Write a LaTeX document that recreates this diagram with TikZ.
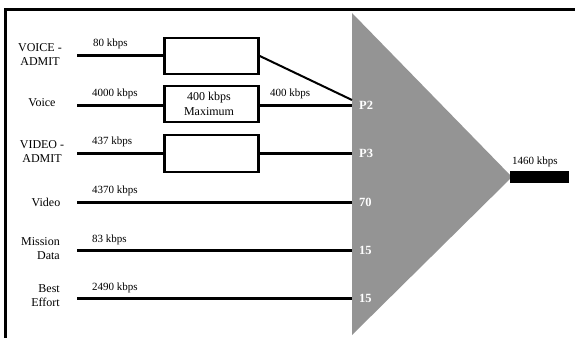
\documentclass[tikz,border=0pt]{standalone}
\usepackage{fontspec}
\setmainfont{Liberation Serif}
\definecolor{trigrey}{HTML}{949494}
\begin{document}
\begin{tikzpicture}[x=1pt,y=-1pt,
  font=\fontsize{11}{13}\selectfont,
  feed/.style={line width=3pt},
  shaper/.style={draw,line width=2.6pt,minimum width=94pt,minimum height=36pt,inner sep=0pt,fill=white},
  rate/.style={anchor=west,inner sep=0pt},
  src/.style={inner sep=0pt,align=center,font=\fontsize{12}{13}\selectfont},
  prio/.style={anchor=west,inner sep=0pt,text=white,font=\fontsize{12.5}{14}\selectfont\bfseries}]
\useasboundingbox (0,0) rectangle (575,337);
% frame
\draw[line width=3pt] (5,340) -- (5,10) -- (580,10);
% triangle
\fill[trigrey] (352,13) -- (512,177) -- (352,335) -- cycle;
\coordinate (apex) at (510,177);
\coordinate (outend) at (569,177);
\draw[line width=12pt] (apex) -- (outend);
\node[anchor=west,inner sep=0pt] (outlbl) at (512,162) {1460 kbps};
% triangle input points
\coordinate (p2d) at (352,100);
\coordinate (p2) at (352,105);
\coordinate (p3) at (352,153);
\coordinate (p70) at (352,202);
\coordinate (p15a) at (352,250);
\coordinate (p15b) at (352,298);
\node[prio] (lp2) at (359,105) {P2};
\node[prio] (lp3) at (359,153) {P3};
\node[prio] (l70) at (359,202) {70};
\node[prio] (l15a) at (359,250) {15};
\node[prio] (l15b) at (359,298) {15};
% shaper boxes
\node[shaper] (b1) at (211.5,56) {};
\node[shaper] (b2) at (211.5,104) {};
\node[shaper,minimum height=37pt] (b3) at (211.5,153.5) {};
\node[src] (b2t) at (209,104) {400 kbps\\[2pt]Maximum};
% start coordinates
\coordinate (s1) at (77,56);
\coordinate (s2) at (77,105);
\coordinate (s3) at (77,153);
\coordinate (s4) at (77,202);
\coordinate (s5) at (77,250);
\coordinate (s6) at (77,298);
% feeds
\draw[feed] (s1) -- (s1 -| b1.west);
\draw[feed] (s2) -- (s2 -| b2.west);
\draw[feed] (s3) -- (s3 -| b3.west);
\draw[line width=2pt] (b1.east |- 0,56) -- (p2d);
\draw[feed] (b2.east |- p2) -- (p2);
\draw[feed] (b3.east |- p3) -- (p3);
\draw[feed] (s4) -- (p70);
\draw[feed] (s5) -- (p15a);
\draw[feed] (s6) -- (p15b);
% rate labels
\node[rate] (r1) at (93,44) {80 kbps};
\node[rate] (r2) at (92,94) {4000 kbps};
\node[rate] (r3) at (92,142) {437 kbps};
\node[rate] (r4) at (92,191) {4370 kbps};
\node[rate] (r5) at (92,240) {83 kbps};
\node[rate] (r6) at (92,288) {2490 kbps};
\node[rate] (r7) at (270,94) {400 kbps};
% source labels
\node[src] (n1) at (40,55) {VOICE -\\[1pt]ADMIT};
\node[src] (n2) at (42,103) {Voice};
\node[src] (n3) at (42,152) {VIDEO -\\[1pt]ADMIT};
\node[src] (n4) at (46,202) {Video};
\node[src,anchor=east,align=right] (n5) at (60,249) {Mission\\[1pt]Data};
\node[src,anchor=east,align=right] (n6) at (60,296) {Best\\[1pt]Effort};
\end{tikzpicture}
\end{document}
